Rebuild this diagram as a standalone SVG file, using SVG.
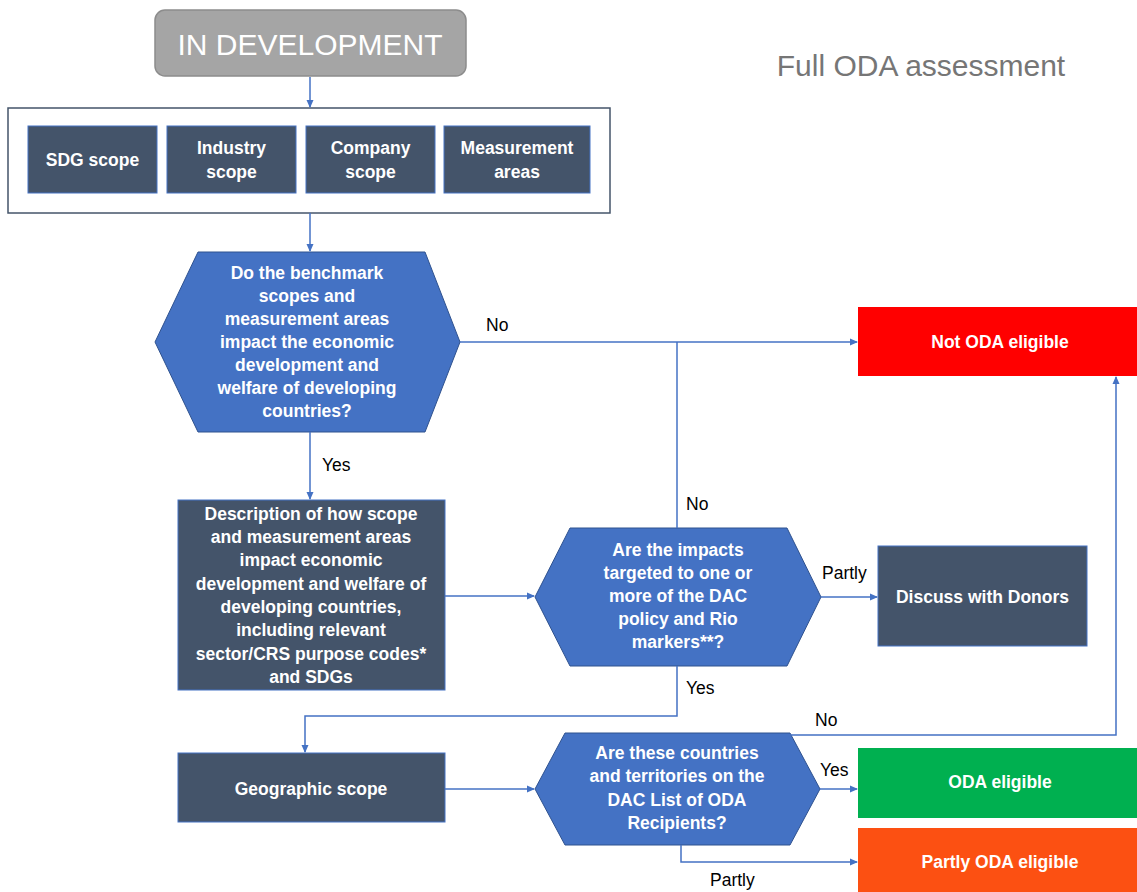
<svg xmlns="http://www.w3.org/2000/svg" width="1137" height="892" viewBox="0 0 1137 892">
<style>
.t{font-family:"Liberation Sans",Arial,sans-serif;font-size:17.5px;font-weight:bold;fill:#ffffff;text-anchor:middle}
.l{font-family:"Liberation Sans",Arial,sans-serif;font-size:17.5px;fill:#000000}
.dark{fill:#44546a;stroke:#4472c4;stroke-width:1}
.hex{fill:#4472c4;stroke:#2f528f;stroke-width:1}
.c{fill:none;stroke:#4472c4;stroke-width:1.5}
</style>
<defs>
<marker id="arr" markerWidth="8" markerHeight="8" refX="7" refY="4" orient="auto" markerUnits="userSpaceOnUse">
<path d="M0,0.5 L8,4 L0,7.5 Z" fill="#4472c4"/>
</marker>
</defs>
<rect width="1137" height="892" fill="#ffffff"/>

<g id="title">
<rect x="155" y="10" width="311" height="66" rx="10" fill="#a5a5a5" stroke="#8c8c8c" stroke-width="1.5"/>
<text x="310" y="55" style="font-family:'Liberation Sans',Arial,sans-serif;font-size:30px;fill:#ffffff;text-anchor:middle">IN DEVELOPMENT</text>
</g>
<g id="heading">
<text x="921" y="76" style="font-family:'Liberation Sans',Arial,sans-serif;font-size:30px;fill:#767676;text-anchor:middle">Full ODA assessment</text>
</g>

<g id="scope-group">
<rect x="8" y="108" width="602" height="105" fill="#ffffff" stroke="#44546a" stroke-width="1.5"/>
</g>
<g id="sdg-scope">
<rect class="dark" x="28" y="126" width="129" height="67"/>
<text class="t" x="92.5" y="166">SDG scope</text>
</g>
<g id="industry-scope">
<rect class="dark" x="167" y="126" width="129" height="67"/>
<text class="t" x="231.5" y="154">Industry</text>
<text class="t" x="231.5" y="178">scope</text>
</g>
<g id="company-scope">
<rect class="dark" x="306" y="126" width="129" height="67"/>
<text class="t" x="370.5" y="154">Company</text>
<text class="t" x="370.5" y="178">scope</text>
</g>
<g id="measurement-areas">
<rect class="dark" x="444" y="126" width="146" height="67"/>
<text class="t" x="517" y="154">Measurement</text>
<text class="t" x="517" y="178">areas</text>
</g>

<g id="q1">
<polygon class="hex" points="198,252 425,252 460,342 425,432 198,432 155,342"/>
<text class="t" x="307" y="279">Do the benchmark</text>
<text class="t" x="307" y="302">scopes and</text>
<text class="t" x="307" y="325">measurement areas</text>
<text class="t" x="307" y="348">impact the economic</text>
<text class="t" x="307" y="371">development and</text>
<text class="t" x="307" y="394">welfare of developing</text>
<text class="t" x="307" y="417">countries?</text>
</g>

<g id="not-oda">
<rect x="858" y="307" width="279" height="69" fill="#ff0000"/>
<text class="t" x="1000" y="348">Not ODA eligible</text>
</g>

<g id="description">
<rect class="dark" x="178" y="500" width="267" height="190"/>
<text class="t" x="311" y="520">Description of how scope</text>
<text class="t" x="311" y="543">and measurement areas</text>
<text class="t" x="311" y="566">impact economic</text>
<text class="t" x="311" y="590">development and welfare of</text>
<text class="t" x="311" y="613">developing countries,</text>
<text class="t" x="311" y="636">including relevant</text>
<text class="t" x="311" y="660">sector/CRS purpose codes*</text>
<text class="t" x="311" y="683">and SDGs</text>
</g>

<g id="q2">
<polygon class="hex" points="570,528 787,528 821,597 787,666 570,666 535,597"/>
<text class="t" x="678" y="556">Are the impacts</text>
<text class="t" x="678" y="579">targeted to one or</text>
<text class="t" x="678" y="602">more of the DAC</text>
<text class="t" x="678" y="625">policy and Rio</text>
<text class="t" x="678" y="648">markers**?</text>
</g>

<g id="discuss">
<rect class="dark" x="878" y="546" width="209" height="100"/>
<text class="t" x="982.5" y="603">Discuss with Donors</text>
</g>

<g id="geographic-scope">
<rect class="dark" x="178" y="753" width="267" height="69"/>
<text class="t" x="311" y="795">Geographic scope</text>
</g>

<g id="q3">
<polygon class="hex" points="565,733 790,733 820,789 790,845 565,845 535,789"/>
<text class="t" x="677" y="759">Are these countries</text>
<text class="t" x="677" y="782">and territories on the</text>
<text class="t" x="677" y="806">DAC List of ODA</text>
<text class="t" x="677" y="829">Recipients?</text>
</g>

<g id="oda-eligible">
<rect x="858" y="748" width="279" height="70" fill="#00b050"/>
<text class="t" x="1000" y="788">ODA eligible</text>
</g>

<g id="partly-oda">
<rect x="858" y="828" width="279" height="64" fill="#fc5012"/>
<text class="t" x="1000" y="868">Partly ODA eligible</text>
</g>

<g id="connectors">
<path class="c" d="M310,77 V107" marker-end="url(#arr)"/>
<path class="c" d="M310,213 V251" marker-end="url(#arr)"/>
<path class="c" d="M460,342 H857" marker-end="url(#arr)"/>
<path class="c" d="M677,528 V342"/>
<path class="c" d="M310,432 V499" marker-end="url(#arr)"/>
<path class="c" d="M445,596 H534" marker-end="url(#arr)"/>
<path class="c" d="M821,597 H877" marker-end="url(#arr)"/>
<path class="c" d="M677,666 V716 H305 V752" marker-end="url(#arr)"/>
<path class="c" d="M790,735 H1116 V377" marker-end="url(#arr)"/>
<path class="c" d="M445,789 H534" marker-end="url(#arr)"/>
<path class="c" d="M820,789 H857" marker-end="url(#arr)"/>
<path class="c" d="M681,845 V862 H857" marker-end="url(#arr)"/>
<text class="l" x="486" y="331">No</text>
<text class="l" x="686" y="510">No</text>
<text class="l" x="322" y="471">Yes</text>
<text class="l" x="822" y="579">Partly</text>
<text class="l" x="686" y="694">Yes</text>
<text class="l" x="815" y="726">No</text>
<text class="l" x="820" y="776">Yes</text>
<text class="l" x="710" y="886">Partly</text>
</g>
</svg>
